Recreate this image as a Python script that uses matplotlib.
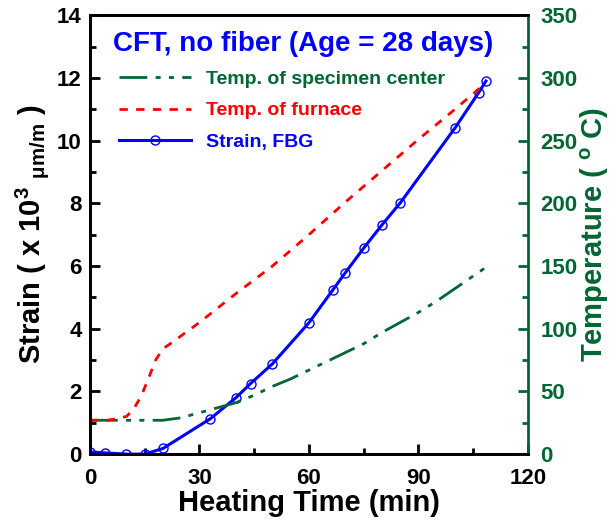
import matplotlib
matplotlib.use('Agg')
import matplotlib.pyplot as plt
from matplotlib.ticker import MultipleLocator

plt.rcParams['font.family'] = ['Liberation Sans', 'DejaVu Sans']
plt.rcParams['font.weight'] = 'bold'
plt.rcParams['axes.labelweight'] = 'bold'
plt.rcParams['mathtext.fontset'] = 'custom'
plt.rcParams['mathtext.rm'] = 'Liberation Sans:bold'
plt.rcParams['mathtext.bf'] = 'Liberation Sans:bold'
plt.rcParams['mathtext.it'] = 'Liberation Sans:bold'

GREEN = '#006633'

# FBG strain (x 10^3 um/m)
t_strain = [0, 4, 10, 15, 20, 33, 40, 44, 50, 60, 66.5, 70, 75, 80, 85, 100, 106.5, 108.5]
strain = [0.07, 0.04, 0.0, 0.0, 0.18, 1.13, 1.80, 2.25, 2.88, 4.19, 5.23, 5.79, 6.57, 7.31, 8.01, 10.40, 11.53, 11.90]

# furnace temperature (C)
t_furn = [0, 5, 10, 12, 14, 16, 18, 20, 22, 30, 40, 50, 60, 70, 80, 90, 100, 108.5]
temp_furn = [27, 27, 30, 36, 46, 60, 75, 84, 88, 105, 128, 150, 175, 201, 226, 251, 275, 296]

# specimen center temperature (C)
t_cent = [0, 10, 20, 25, 30, 35, 40, 45, 50, 55, 60, 65, 70, 75, 80, 85, 90, 95, 100, 105, 108.5]
temp_cent = [27, 27, 27, 29, 33, 37, 41, 47, 54, 60, 67, 74, 81, 88, 97, 105, 113, 122, 132, 142, 149]

fig = plt.figure(figsize=(6.16, 5.25), dpi=100)
ax = fig.add_axes([0.146, 0.135, 0.711, 0.836])
ax2 = ax.twinx()

l3, = ax.plot(t_strain, strain, color='blue', lw=2.2, marker='o', ms=6.5,
              mfc='none', mec='blue', mew=1.0, label='Strain, FBG')
l1, = ax2.plot(t_cent, temp_cent, color=GREEN, lw=2, linestyle=(0, (10, 3, 1.8, 3, 1.8, 3)),
               label='Temp. of specimen center')
l2, = ax2.plot(t_furn, temp_furn, color='red', lw=2, linestyle=(0, (3, 3)),
               label='Temp. of furnace')

ax.set_xlim(0, 120)
ax.set_ylim(0, 14)
ax2.set_ylim(0, 350)

ax.xaxis.set_major_locator(MultipleLocator(30))
ax.xaxis.set_minor_locator(MultipleLocator(15))
ax.yaxis.set_major_locator(MultipleLocator(2))
ax.yaxis.set_minor_locator(MultipleLocator(1))
ax2.yaxis.set_major_locator(MultipleLocator(50))
ax2.yaxis.set_minor_locator(MultipleLocator(25))

ax.tick_params(axis='both', which='both', direction='in', width=2, labelsize=16, pad=6)
ax.tick_params(axis='x', which='major', pad=10)
ax.tick_params(which='major', length=7)
ax.tick_params(which='minor', length=4)
ax2.tick_params(axis='y', which='both', direction='in', width=2, colors=GREEN,
                labelsize=16, pad=9)
ax2.tick_params(which='major', length=7)
ax2.tick_params(which='minor', length=4)

for s in ['left', 'bottom', 'top']:
    ax.spines[s].set_linewidth(2)
    ax2.spines[s].set_linewidth(2)
ax2.spines['right'].set_linewidth(2)
ax2.spines['right'].set_color(GREEN)
ax.spines['right'].set_visible(False)

ax.set_xlabel('Heating Time (min)', fontsize=21, fontweight='bold', labelpad=0)
ax.set_ylabel(r'Strain ( x 10$^{3}$ $_{\mu m/m}$ )', fontsize=21, fontweight='bold', labelpad=4)
ax2.set_ylabel(r'Temperature ( $^{o}$ C)', fontsize=21, fontweight='bold', color=GREEN, labelpad=1)

ax.text(0.053, 0.934, 'CFT, no fiber (Age = 28 days)', transform=ax.transAxes,
        fontsize=20, color='blue', fontweight='bold', va='center', ha='left')

leg = ax2.legend(handles=[l1, l2, l3], loc='upper left', bbox_to_anchor=(0.035, 0.905),
                 frameon=False, fontsize=14, handlelength=3.7, handletextpad=0.8,
                 labelspacing=0.7, numpoints=1, borderpad=0.2)
for txt, col in zip(leg.get_texts(), [GREEN, 'red', 'blue']):
    txt.set_color(col)

fig.savefig('out.png', dpi=100)
